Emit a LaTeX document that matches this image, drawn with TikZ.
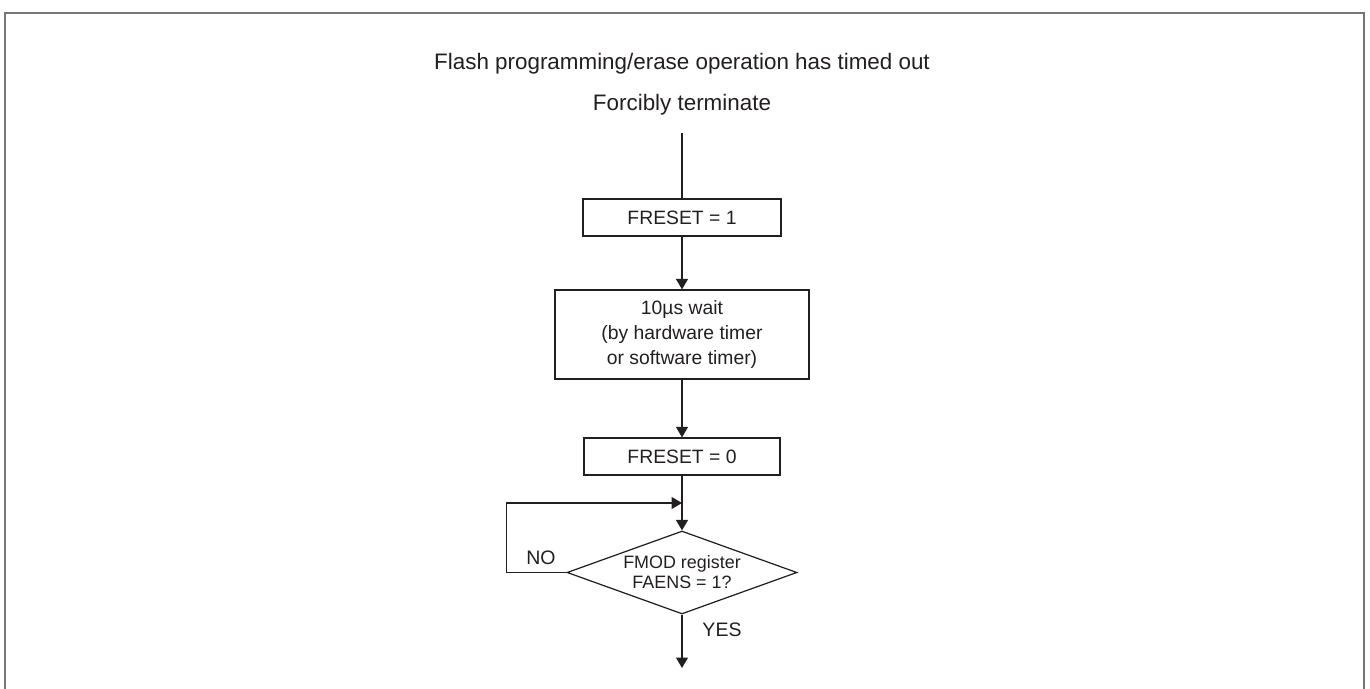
\documentclass[tikz,border=0pt]{standalone}
\usepackage{fontspec}
\setmainfont{Liberation Sans}
\usepackage{tikz}
\usetikzlibrary{arrows.meta, positioning, shapes.geometric}
\definecolor{ink}{HTML}{231F20}
\definecolor{rim}{HTML}{767676}

\begin{document}
\begin{tikzpicture}[x=0.02cm, y=-0.02cm, >={Triangle[length=0.21cm, width=0.24cm]},
		every node/.style={text=ink, inner sep=0pt},
		box/.style={draw=ink, line width=0.7pt, align=center, font=\fontsize{11}{14.2}\selectfont},
		decide/.style={draw=ink, line width=0.7pt, diamond, aspect=2.77, align=center, font=\fontsize{10.2}{11.4}\selectfont},
		lab/.style={font=\fontsize{11.1}{13}\selectfont},
		head/.style={anchor=base, font=\fontsize{12.75}{15}\selectfont},
		flow/.style={draw=ink, line width=0.7pt}]
				\useasboundingbox (0,0) rectangle (1370,689);
				\draw [rim, line width=1.1pt] (5,689) -- (5,13) -- (1364,13) -- (1364,689);
				
				\node [head] (title) at (682,70) {Flash programming/erase operation has timed out};
				\node [head] (force) at (682,111) {Forcibly terminate};
				\coordinate (start) at (682,133);
				\node [box, minimum width=3.96cm, minimum height=0.74cm] (set) at (682,217.5) {FRESET = 1};
				\node [box, minimum width=5.08cm, minimum height=1.78cm] (wait) at (682,334.5) {10µs wait\\(by hardware timer\\or software timer)};
				\node [box, minimum width=3.92cm, minimum height=0.74cm] (clr) at (682,456.5) {FRESET = 0};
				\coordinate (merge) at (682,503);
				\node [decide, minimum width=4.6cm, minimum height=1.66cm] (fmod) at (682,572.5) {FMOD register\\FAENS = 1?};
				\node [lab] (no) at (541,558) {NO};
				\node [lab] (yes) at (722,630) {YES};
				\coordinate (done) at (682,668);
				
				\draw [flow] (start) -- (set);
				\draw [flow, ->] (set) -- (wait);
				\draw [flow, ->] (wait) -- (clr);
				\draw [flow, ->] (clr) -- (fmod);
				\draw [flow, ->] (fmod.west) -- ++(-60,0) |- (merge);
				\draw [flow, ->] (fmod) -- (done);
			\end{tikzpicture}
\end{document}
